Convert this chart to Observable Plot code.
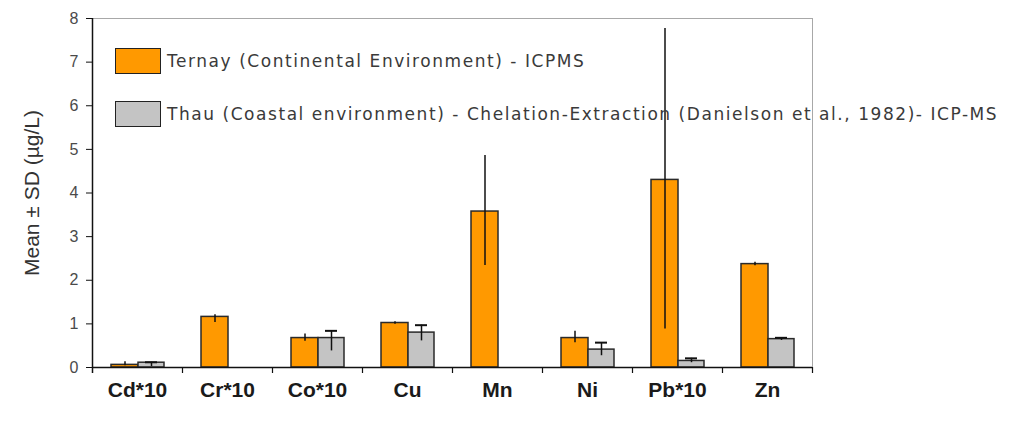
<!DOCTYPE html>
<html>
<head>
<meta charset="utf-8">
<script src="https://cdn.jsdelivr.net/npm/d3@7"></script>
<script src="https://cdn.jsdelivr.net/npm/@observablehq/plot@0.6"></script>
<style>
  html, body { margin: 0; padding: 0; background: white; }
  #wrap { position: relative; width: 1010px; height: 423px; }
  .legend { position: absolute; left: 115px; font-family: "DejaVu Sans", sans-serif; font-size: 17px; letter-spacing: 1.55px; color: #3a3a3a; display: flex; align-items: center; white-space: nowrap; }
  .sw { width: 46px; height: 26px; border: 1.5px solid #222; box-sizing: border-box; margin-right: 6px; }
</style>
</head>
<body>
<div id="wrap"></div>
<script>
const categories = ["Cd*10", "Cr*10", "Co*10", "Cu", "Mn", "Ni", "Pb*10", "Zn"];
const seriesNames = [
  "Ternay (Continental Environment) - ICPMS",
  "Thau (Coastal environment) - Chelation-Extraction (Danielson et al., 1982)- ICP-MS"
];
const ternayMean = [0.06, 1.16, 0.675, 1.02, 3.575, 0.675, 4.30, 2.37];
const ternayLow  = [0.04, 1.03, 0.60, 0.99, 2.34, 0.57, 0.88, 2.33];
const ternayHigh = [0.13, 1.21, 0.77, 1.05, 4.86, 0.83, 7.77, 2.41];
const thauMean = [0.11, null, 0.675, 0.80, null, 0.41, 0.15, 0.65];
const thauLow  = [0.02, null, 0.38, 0.61, null, 0.27, 0.11, 0.62];
const thauHigh = [0.12, null, 0.84, 0.97, null, 0.57, 0.21, 0.68];
const yTicks = [0, 1, 2, 3, 4, 5, 6, 7, 8];
const yLabel = "Mean ± SD (µg/L)";
const colors = ["#FF9900", "#C4C4C4"];

const ternay = categories.map((c, i) => ({cat: c, v: ternayMean[i], lo: ternayLow[i], hi: ternayHigh[i]}));
const thau = categories.map((c, i) => ({cat: c, v: thauMean[i], lo: thauLow[i], hi: thauHigh[i]})).filter(d => d.v != null);

const chart = Plot.plot({
  width: 1010,
  height: 423,
  marginLeft: 92,
  marginRight: 198,
  marginTop: 18,
  marginBottom: 56,
  style: {fontFamily: "'Liberation Sans', Arial, sans-serif", background: "white", overflow: "visible"},
  x: {domain: categories, padding: 0, label: null},
  y: {domain: [0, 8], label: null},
  marks: [
    Plot.frame({stroke: "#a8a8a8", strokeWidth: 1}),
    Plot.barY(ternay, {x: "cat", y: "v", fill: colors[0], stroke: "#2a2a2a", strokeWidth: 1.5, insetLeft: 19, insetRight: 44}),
    Plot.barY(thau, {x: "cat", y: "v", fill: colors[1], stroke: "#2a2a2a", strokeWidth: 1.5, insetLeft: 46, insetRight: 18}),
    Plot.ruleX(ternay, {x: "cat", y1: "lo", y2: "hi", dx: -12.5, stroke: "#111", strokeWidth: 1.5}),
    Plot.ruleX(thau, {x: "cat", y1: "lo", y2: "hi", dx: 14, stroke: "#111", strokeWidth: 1.5}),
    Plot.tickY(thau, {x: "cat", y: "hi", dx: 14, insetLeft: 39, insetRight: 39, stroke: "#111", strokeWidth: 2}),
    Plot.ruleY([0], {stroke: "#111", strokeWidth: 1.5}),
    Plot.tickX([categories[0]], {x: d => d, dx: -45, insetBottom: -6, stroke: "#111", strokeWidth: 1.5}),
    Plot.axisX({tickSize: 6, dx: 45, tickFormat: () => "", stroke: "#111", strokeWidth: 1.2, label: null}),
    Plot.axisX({tickSize: 0, tickPadding: 15, fontSize: 21, fontWeight: "bold", fill: "#1a1a1a", label: null}),
    Plot.axisY({ticks: yTicks, tickSize: 6, tickPadding: 8, fontSize: 16, fill: "#4a4a4a", stroke: "#111", label: null}),
    Plot.text([yLabel], {frameAnchor: "left", dx: -60, rotate: -90, textAnchor: "middle", fontSize: 21, fill: "#333"})
  ]
});

const wrap = document.getElementById("wrap");
wrap.appendChild(chart);
const legendTops = [48, 101];
seriesNames.forEach((name, i) => {
  const row = document.createElement("div");
  row.className = "legend";
  row.style.top = legendTops[i] + "px";
  const sw = document.createElement("div");
  sw.className = "sw";
  sw.style.background = colors[i];
  const t = document.createElement("span");
  t.textContent = name;
  row.appendChild(sw);
  row.appendChild(t);
  wrap.appendChild(row);
});
</script>
</body>
</html>
